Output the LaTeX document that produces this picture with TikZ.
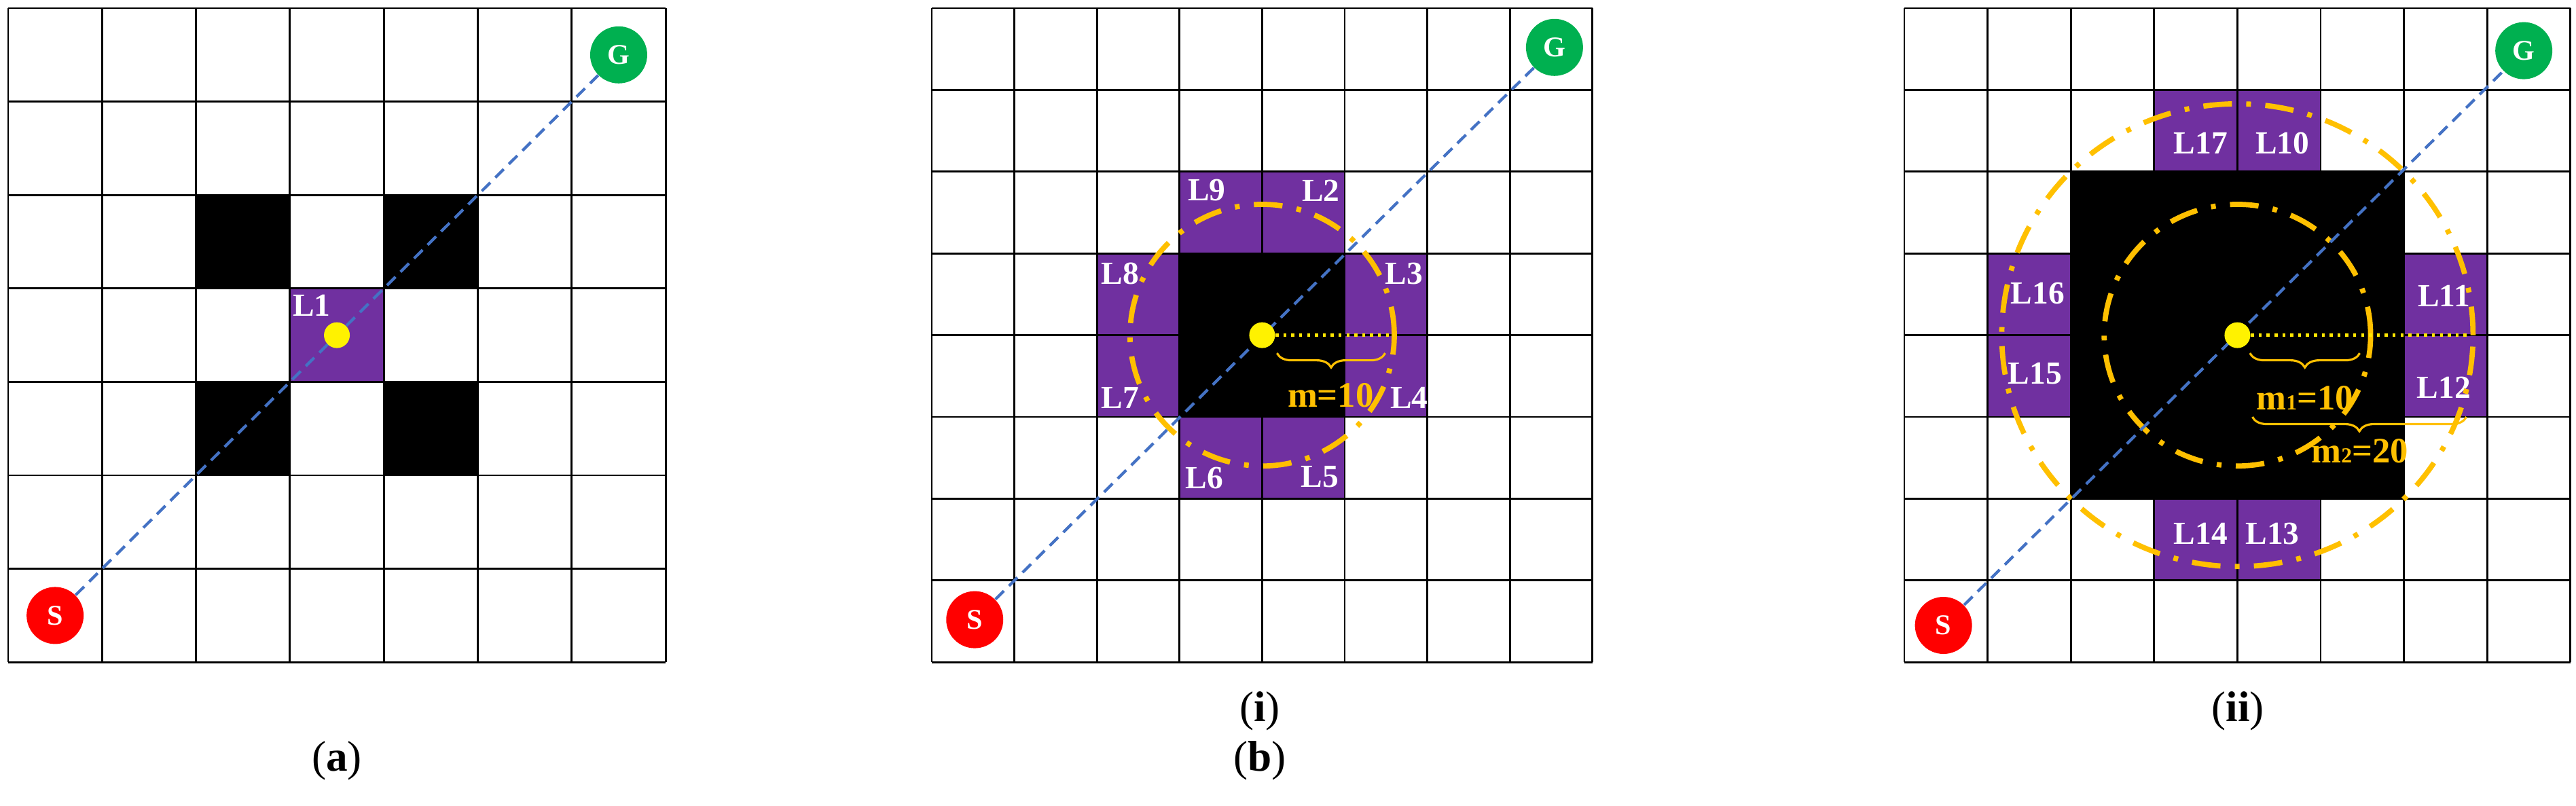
\documentclass[tikz,border=0pt]{standalone}
\usepackage{fontspec}
\setmainfont{Liberation Serif}
\usetikzlibrary{decorations.pathreplacing}
\definecolor{pur}{RGB}{112,48,160}
\definecolor{gold}{RGB}{255,192,0}
\definecolor{grn}{RGB}{0,176,80}
\definecolor{blu}{RGB}{68,114,196}
\tikzset{
  gridln/.style={line width=0.8pt,black},
  cellP/.style={fill=pur},
  cellB/.style={fill=black},
  lab/.style={text=white,font=\bfseries\fontsize{13.5}{13.5}\selectfont,inner sep=0pt},
  startn/.style={circle,fill=red,minimum size=0.84cm,inner sep=0pt,text=white,font=\bfseries\fontsize{12}{12}\selectfont},
  goaln/.style={circle,fill=grn,minimum size=0.84cm,inner sep=0pt,text=white,font=\bfseries\fontsize{12}{12}\selectfont},
  pathln/.style={blu,line width=1.2pt,dash pattern=on 5pt off 3pt},
  ydot/.style={circle,fill=yellow,minimum size=0.38cm,inner sep=0pt},
  ring/.style={gold,line width=2.2pt,dash pattern=on 12pt off 6pt on 2pt off 6pt},
  ydots/.style={yellow!90!orange,line width=1.3pt,dotted},
  brc/.style={gold,line width=0.9pt,decorate,decoration={brace,mirror,amplitude=6pt,aspect=0.5}},
  mlab/.style={text=gold,font=\bfseries\fontsize{15}{15}\selectfont,inner sep=0pt},
  captxt/.style={font=\fontsize{18}{18}\selectfont,inner sep=0pt}
}
\begin{document}
\begin{tikzpicture}
\useasboundingbox (0,0) rectangle (37.93,-11.86);
% ---------- panel (a)
\begin{scope}[shift={(0.12,-0.12)},x={(1.383cm,0)},y={(0,-1.376cm)}]
\foreach \c/\r in {2/2,4/2,2/4,4/4} \fill[cellB] (\c,\r) rectangle ++(1,1);
\fill[cellP] (3,3) rectangle (4,4);
\foreach \i in {0,...,7} {\draw[gridln] (\i,0)--(\i,7); \draw[gridln] (0,\i)--(7,\i);}
\node[lab] (aL1) at (3.23,3.18) {L1};
\node[startn] (aS) at (0.5,6.5) {S};
\node[goaln] (aG) at (6.5,0.5) {G};
\draw[pathln] (aS) -- (aG);
\node[ydot] (aD) at (3.5,3.5) {};
\end{scope}
\node[captxt] (capa) at (4.96,-11.20) {({\bfseries a})};
% ---------- panel (i)
\begin{scope}[shift={(13.72,-0.12)},x={(1.216cm,0)},y={(0,-1.204cm)}]
\fill[cellB] (3,3) rectangle (5,5);
\foreach \c/\r in {3/2,4/2,5/3,5/4,3/5,4/5,2/3,2/4} \fill[cellP] (\c,\r) rectangle ++(1,1);
\foreach \i in {0,...,8} {\draw[gridln] (\i,0)--(\i,8); \draw[gridln] (0,\i)--(8,\i);}
\node[lab] (iL9) at (3.33,2.23) {L9};
\node[lab] (iL2) at (4.71,2.23) {L2};
\node[lab] (iL3) at (5.72,3.25) {L3};
\node[lab] (iL8) at (2.28,3.25) {L8};
\node[lab] (iL7) at (2.28,4.77) {L7};
\node[lab] (iL4) at (5.78,4.77) {L4};
\node[lab] (iL6) at (3.30,5.75) {L6};
\node[lab] (iL5) at (4.70,5.73) {L5};
\draw[ring] (4,4) ellipse [x radius=1.6*1.216cm, y radius=1.6*1.204cm];
\node[startn] (iS) at (0.52,7.48) {S};
\node[goaln] (iG) at (7.54,0.48) {G};
\draw[pathln] (iS) -- (iG);
\node[ydot] (iD) at (4,4) {};
\coordinate (iE) at (5.6,4);
\draw[ydots] (iD) -- (iE);
\coordinate (iB1) at (4.18,4.22);
\coordinate (iB2) at (5.49,4.22);
\draw[brc] (iB1) -- (iB2);
\node[mlab] (im) at (4.83,4.74) {m=10};
\end{scope}
\node[captxt] (capi) at (18.55,-10.47) {({\bfseries i})};
\node[captxt] (capb) at (18.55,-11.20) {({\bfseries b})};
% ---------- panel (ii)
\begin{scope}[shift={(28.04,-0.12)},x={(1.226cm,0)},y={(0,-1.204cm)}]
\fill[cellB] (2,2) rectangle (6,6);
\foreach \c/\r in {3/1,4/1,6/3,6/4,1/3,1/4,3/6,4/6} \fill[cellP] (\c,\r) rectangle ++(1,1);
\foreach \i in {0,...,8} {\draw[gridln] (\i,0)--(\i,8); \draw[gridln] (0,\i)--(8,\i);}
\node[lab] (L17) at (3.56,1.65) {L17};
\node[lab] (L10) at (4.54,1.65) {L10};
\node[lab] (L16) at (1.60,3.49) {L16};
\node[lab] (L15) at (1.57,4.47) {L15};
\node[lab] (L11) at (6.48,3.52) {L11};
\node[lab] (L12) at (6.48,4.64) {L12};
\node[lab] (L14) at (3.56,6.43) {L14};
\node[lab] (L13) at (4.42,6.43) {L13};
\draw[ring] (4,4) ellipse [x radius=1.6*1.226cm, y radius=1.6*1.204cm];
\draw[ring] (4,4) ellipse [x radius=2.83*1.226cm, y radius=2.83*1.204cm];
\node[startn] (iiS) at (0.47,7.55) {S};
\node[goaln] (iiG) at (7.44,0.52) {G};
\draw[pathln] (iiS) -- (iiG);
\node[ydot] (iiD) at (4,4) {};
\coordinate (iiE) at (6.8,4);
\draw[ydots] (iiD) -- (iiE);
\coordinate (iiB1) at (4.15,4.22);
\coordinate (iiB2) at (5.47,4.22);
\draw[brc] (iiB1) -- (iiB2);
\node[mlab] (m1) at (4.81,4.77) {m{\fontsize{9}{9}\selectfont 1}=10};
\coordinate (iiC1) at (4.18,5.0);
\coordinate (iiC2) at (6.75,5.0);
\draw[brc] (iiC1) -- (iiC2);
\node[mlab] (m2) at (5.47,5.42) {m{\fontsize{9}{9}\selectfont 2}=20};
\end{scope}
\node[captxt] (capii) at (32.95,-10.47) {({\bfseries ii})};
\end{tikzpicture}
\end{document}
